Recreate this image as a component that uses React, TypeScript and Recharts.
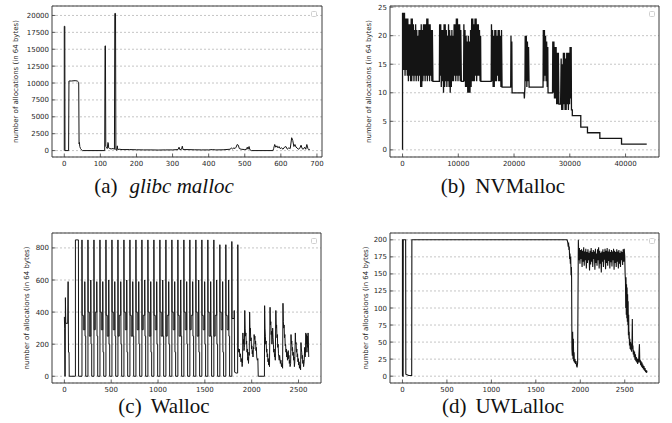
import React from 'react';
import { LineChart, Line, XAxis, YAxis, CartesianGrid, ReferenceArea } from 'recharts';

type Pt = [number, number];

// ---------- tick labels ----------
const glibcXTicks = [0, 100, 200, 300, 400, 500, 600, 700];
const glibcYTicks = [0, 2500, 5000, 7500, 10000, 12500, 15000, 17500, 20000];
const nvXTicks = [0, 10000, 20000, 30000, 40000];
const nvYTicks = [0, 5, 10, 15, 20, 25];
const wallocXTicks = [0, 500, 1000, 1500, 2000, 2500];
const wallocYTicks = [0, 200, 400, 600, 800];
const uwlXTicks = [0, 500, 1000, 1500, 2000, 2500];
const uwlYTicks = [0, 25, 50, 75, 100, 125, 150, 175, 200];

const yTitle = 'number of allocations (in 64 bytes)';

// ---------- series values ----------
const glibcPoints: Pt[] = [
  [0, 0], [0, 18400], [1.5, 18400], [2, 0], [12, 0], [13, 10300], [20, 10300], [30, 10350], [36, 10300], [38, 10200],
  [40, 10100], [41, 1000], [42, 1200], [43, 600], [45, 300], [48, 100], [50, 0], [112, 0], [113, 15500], [114, 15500],
  [115, 600], [117, 500], [119, 300], [121, 1200], [122, 1100], [123, 400], [126, 300], [130, 250], [135, 300], [139, 200],
  [140, 20300], [142, 20300], [143, 100], [145, 50], [147, 700], [148, 150], [152, 200], [160, 150], [180, 150], [200, 120],
  [220, 100], [240, 100], [260, 80], [280, 100], [300, 100], [315, 150], [318, 500], [320, 150], [325, 200], [327, 650],
  [329, 150], [340, 150], [360, 120], [380, 100], [400, 100], [410, 150], [420, 100], [440, 120], [460, 200], [463, 400],
  [466, 250], [470, 400], [473, 300], [476, 500], [479, 900], [482, 800], [485, 300], [490, 200], [500, 150], [505, 200],
  [507, 500], [509, 200], [512, 600], [514, 150], [518, 0], [578, 0], [580, 300], [583, 900], [586, 500], [589, 700],
  [592, 400], [595, 600], [598, 300], [602, 400], [606, 200], [610, 500], [614, 600], [618, 200], [622, 400], [626, 300],
  [630, 1900], [633, 1500], [636, 600], [639, 900], [642, 500], [645, 400], [648, 200], [652, 300], [656, 800], [659, 300],
  [662, 200], [666, 500], [669, 200], [672, 900], [675, 300], [678, 100], [680, 200],
];

const nvmallocPoints: Pt[] = [
  [0, 0], [0, 24],
  [100, 14], [150, 24], [250, 14], [350, 24], [450, 13], [550, 23], [650, 14], [750, 23], [850, 13], [950, 23],
  [1050, 12], [1150, 22], [1250, 13], [1350, 22], [1450, 12], [1550, 23], [1650, 12], [1750, 23], [1850, 13], [1950, 22],
  [2050, 12], [2150, 21], [2250, 13], [2350, 22], [2450, 12], [2550, 21], [2650, 13], [2750, 20], [2850, 12], [2950, 21],
  [3050, 13], [3150, 21], [3250, 11], [3350, 22], [3450, 11], [3550, 21], [3650, 12], [3750, 22], [3850, 13], [3950, 22],
  [4050, 12], [4150, 22], [4250, 13], [4350, 23], [4450, 12], [4550, 23], [4650, 13], [4750, 22], [4850, 12], [4950, 22],
  [5050, 13], [5150, 21], [5250, 12], [5350, 21], [5450, 12],
  [6600, 12],
  [6650, 22], [6750, 13], [6850, 22], [6950, 11], [7050, 21], [7150, 12], [7250, 21], [7350, 10], [7450, 22], [7550, 11],
  [7650, 22], [7750, 12], [7850, 21], [7950, 11], [8050, 20], [8150, 12], [8250, 22], [8350, 11], [8450, 21], [8550, 10],
  [8650, 20], [8750, 11], [8850, 21], [8950, 12], [9050, 20], [9150, 12], [9250, 22], [9350, 13], [9450, 22], [9550, 12],
  [9650, 23], [9750, 13], [9850, 23], [9950, 12], [10050, 22], [10150, 13], [10250, 22], [10350, 12], [10450, 21], [10550, 12],
  [10950, 12],
  [11000, 22], [11100, 12], [11200, 21], [11300, 11], [11400, 20], [11500, 11], [11600, 19], [11700, 10], [11800, 20], [11900, 10],
  [12000, 19], [12100, 10], [12200, 21], [12300, 11], [12400, 23], [12500, 12], [12600, 23], [12700, 12], [12800, 22], [12900, 12],
  [13000, 23], [13100, 13], [13200, 23], [13300, 12], [13400, 22], [13500, 13], [13600, 22], [13700, 13], [13800, 21], [13900, 12],
  [14000, 20], [14050, 12],
  [15900, 12],
  [15950, 22], [16050, 12], [16150, 21], [16250, 11], [16350, 20], [16450, 11], [16550, 21], [16650, 12], [16750, 21], [16850, 12],
  [16950, 20], [17050, 13], [17150, 21], [17250, 12], [17350, 21], [17450, 12], [17550, 20], [17650, 11], [17750, 21], [17850, 11],
  [19400, 11], [19450, 20], [19500, 11], [19600, 19], [19650, 10], [21800, 10], [21850, 9], [21950, 11],
  [22000, 20], [22100, 12], [22200, 20], [22300, 11], [22400, 19], [22500, 12], [22600, 18], [22700, 11],
  [25200, 11],
  [25250, 21], [25350, 12], [25450, 21], [25550, 13], [25650, 20], [25750, 12], [25850, 19], [25950, 11], [26050, 18], [26100, 10],
  [26900, 10],
  [26950, 19], [27050, 10], [27150, 19], [27250, 9], [27350, 18], [27450, 9], [27550, 18], [27650, 8], [27750, 17], [27850, 8],
  [27950, 17], [28050, 8], [28350, 8], [28450, 16], [28550, 7], [28650, 15], [28750, 7], [28850, 17], [28950, 8], [29050, 17],
  [29150, 7], [29250, 16], [29350, 7], [29450, 17], [29550, 8], [29650, 17], [29750, 7], [29850, 17], [29950, 8], [30050, 18],
  [30150, 9], [30250, 18], [30300, 7],
  [30450, 7], [30450, 6], [31970, 6], [31970, 4], [33170, 4], [33170, 3], [35390, 3], [35390, 2], [39280, 2], [39280, 1], [43800, 1],
];

const wallocPoints: Pt[] = [
  [0, 370], [3, 300], [5, 0], [9, 0], [11, 490], [15, 330], [36, 330], [40, 590], [44, 150], [50, 150], [52, 0],
  [118, 0], [118, 850], [150, 850], [152, 0],
  [188, 0], [188, 850], [190, 380], [202, 380], [202, 290], [218, 290], [218, 590], [221, 250], [228, 250], [228, 0],
  [252, 0], [252, 850], [254, 400], [266, 400], [266, 250], [282, 250], [282, 600], [285, 200], [292, 200], [292, 0],
  [316, 0], [316, 850], [318, 290], [330, 290], [330, 400], [346, 400], [346, 590], [349, 250], [356, 250], [356, 0],
  [380, 0], [380, 850], [382, 400], [394, 400], [394, 290], [410, 290], [410, 590], [413, 150], [420, 150], [420, 0],
  [444, 0], [444, 850], [446, 380], [458, 380], [458, 250], [474, 250], [474, 600], [477, 200], [484, 200], [484, 0],
  [508, 0], [508, 850], [510, 400], [522, 400], [522, 290], [538, 290], [538, 590], [541, 250], [548, 250], [548, 0],
  [572, 0], [572, 850], [574, 250], [586, 250], [586, 380], [602, 380], [602, 590], [605, 200], [612, 200], [612, 0],
  [636, 0], [636, 850], [638, 400], [650, 400], [650, 290], [666, 290], [666, 600], [669, 150], [676, 150], [676, 0],
  [700, 0], [700, 850], [702, 380], [714, 380], [714, 250], [730, 250], [730, 590], [733, 250], [740, 250], [740, 0],
  [764, 0], [764, 850], [766, 400], [778, 400], [778, 290], [794, 290], [794, 590], [797, 200], [804, 200], [804, 0],
  [828, 0], [828, 850], [830, 290], [842, 290], [842, 380], [858, 380], [858, 600], [861, 250], [868, 250], [868, 0],
  [892, 0], [892, 850], [894, 400], [906, 400], [906, 250], [922, 250], [922, 590], [925, 150], [932, 150], [932, 0],
  [956, 0], [956, 850], [958, 380], [970, 380], [970, 290], [986, 290], [986, 590], [989, 200], [996, 200], [996, 0],
  [1020, 0], [1020, 850], [1022, 400], [1034, 400], [1034, 250], [1050, 250], [1050, 600], [1053, 250], [1060, 250], [1060, 0],
  [1084, 0], [1084, 850], [1086, 250], [1098, 250], [1098, 380], [1114, 380], [1114, 590], [1117, 200], [1124, 200], [1124, 0],
  [1148, 0], [1148, 850], [1150, 400], [1162, 400], [1162, 290], [1178, 290], [1178, 590], [1181, 150], [1188, 150], [1188, 0],
  [1212, 0], [1212, 850], [1214, 380], [1226, 380], [1226, 250], [1242, 250], [1242, 600], [1245, 250], [1252, 250], [1252, 0],
  [1276, 0], [1276, 850], [1278, 400], [1290, 400], [1290, 290], [1306, 290], [1306, 590], [1309, 200], [1316, 200], [1316, 0],
  [1340, 0], [1340, 850], [1342, 290], [1354, 290], [1354, 380], [1370, 380], [1370, 590], [1373, 250], [1380, 250], [1380, 0],
  [1404, 0], [1404, 850], [1406, 400], [1418, 400], [1418, 250], [1434, 250], [1434, 600], [1437, 150], [1444, 150], [1444, 0],
  [1468, 0], [1468, 850], [1470, 380], [1482, 380], [1482, 290], [1498, 290], [1498, 590], [1501, 200], [1508, 200], [1508, 0],
  [1532, 0], [1532, 850], [1534, 400], [1546, 400], [1546, 250], [1562, 250], [1562, 590], [1565, 250], [1572, 250], [1572, 0],
  [1596, 0], [1596, 850], [1598, 250], [1610, 250], [1610, 380], [1626, 380], [1626, 600], [1629, 200], [1636, 200], [1636, 0],
  [1660, 0], [1660, 820], [1662, 400], [1674, 400], [1674, 290], [1690, 290], [1690, 590], [1693, 150], [1700, 150], [1700, 0],
  [1724, 0], [1724, 820], [1726, 380], [1738, 380], [1738, 290], [1754, 290], [1754, 600], [1757, 250], [1764, 250], [1764, 0],
  [1788, 0], [1788, 840], [1790, 360], [1812, 360], [1814, 410], [1818, 25], [1834, 20], [1850, 20], [1852, 820],
  [1856, 180], [1862, 150], [1868, 170], [1874, 120], [1880, 140], [1886, 90], [1892, 110], [1898, 60], [1902, 80], [1906, 270],
  [1910, 200], [1914, 230], [1918, 160], [1922, 180], [1926, 410], [1930, 300], [1934, 250], [1938, 270], [1942, 200], [1946, 220],
  [1950, 150], [1954, 170], [1958, 100], [1962, 120], [1966, 80], [1970, 150], [1974, 130], [1978, 400], [1982, 280], [1986, 300],
  [1990, 220], [1994, 240], [1998, 170], [2002, 190], [2006, 140], [2010, 160], [2014, 120], [2018, 180], [2022, 170], [2026, 260],
  [2030, 230], [2034, 250], [2038, 200], [2042, 220], [2046, 160], [2050, 180], [2054, 120], [2060, 100], [2066, 110], [2070, 0],
  [2136, 0], [2138, 440], [2142, 300], [2146, 250], [2150, 200], [2154, 220], [2158, 150], [2162, 170], [2166, 120], [2170, 140],
  [2174, 90], [2178, 110], [2182, 70], [2186, 90], [2190, 60], [2196, 430], [2200, 320], [2204, 340], [2208, 260], [2212, 280],
  [2216, 200], [2220, 230], [2224, 300], [2228, 240], [2232, 200], [2236, 150], [2240, 170], [2244, 120], [2248, 140], [2252, 100],
  [2258, 410], [2262, 300], [2266, 320], [2270, 240], [2274, 260], [2278, 180], [2282, 200], [2286, 140], [2290, 120], [2294, 100],
  [2298, 130], [2302, 110], [2306, 80], [2312, 100], [2318, 60], [2324, 80], [2330, 50], [2334, 455], [2338, 340], [2342, 300],
  [2346, 320], [2350, 240], [2354, 260], [2358, 190], [2362, 200], [2366, 150], [2370, 170], [2374, 120], [2378, 150], [2382, 100],
  [2386, 130], [2390, 160], [2394, 110], [2398, 130], [2402, 80], [2406, 100], [2410, 60], [2416, 80], [2420, 260], [2424, 200],
  [2428, 220], [2432, 160], [2436, 180], [2440, 130], [2444, 150], [2448, 100], [2452, 120], [2456, 60], [2460, 90], [2466, 270],
  [2470, 200], [2474, 210], [2478, 150], [2482, 170], [2486, 120], [2490, 140], [2494, 90], [2498, 110], [2502, 70], [2506, 90],
  [2510, 50], [2516, 70], [2522, 40], [2526, 210], [2530, 170], [2534, 150], [2538, 110], [2542, 130], [2546, 80], [2550, 100],
  [2554, 60], [2560, 90], [2566, 180], [2570, 120], [2574, 140], [2578, 270], [2582, 200], [2586, 260], [2590, 150], [2594, 250],
  [2598, 180], [2602, 270], [2606, 200], [2609, 120],
];

const uwlallocPoints: Pt[] = [
  [0, 0], [0, 200], [5, 200], [6, 0], [8, 0], [9, 200], [36, 200], [38, 3], [70, 1], [104, 1], [106, 200], [1850, 200],
  [1856, 198], [1860, 195], [1864, 190], [1868, 196], [1872, 185], [1876, 190], [1880, 172], [1884, 180], [1888, 165], [1892, 175],
  [1896, 148], [1900, 160], [1902, 146], [1906, 40], [1910, 30], [1914, 65], [1918, 25], [1922, 55], [1926, 22], [1930, 35],
  [1934, 20], [1940, 25], [1946, 18], [1952, 22], [1958, 15], [1964, 13], [1970, 20], [1978, 200],
  [1984, 170], [1990, 188], [1996, 165], [2002, 185], [2008, 172], [2014, 186], [2020, 160], [2026, 184], [2032, 168], [2038, 189],
  [2044, 162], [2050, 183], [2056, 170], [2062, 187], [2068, 158], [2074, 182], [2080, 166], [2086, 186], [2092, 170], [2098, 181],
  [2104, 155], [2110, 184], [2116, 164], [2122, 188], [2128, 168], [2134, 182], [2140, 160], [2146, 185], [2152, 172], [2158, 183],
  [2164, 156], [2170, 187], [2176, 166], [2182, 180], [2188, 162], [2194, 186], [2200, 170], [2206, 189], [2212, 158], [2218, 184],
  [2224, 165], [2230, 181], [2236, 152], [2242, 183], [2248, 168], [2254, 186], [2260, 160], [2266, 182], [2272, 171], [2278, 187],
  [2284, 157], [2290, 184], [2296, 166], [2302, 188], [2308, 162], [2314, 183], [2320, 169], [2326, 186], [2332, 158], [2338, 182],
  [2344, 167], [2350, 185], [2356, 161], [2362, 183], [2368, 170], [2374, 187], [2380, 156], [2386, 184], [2392, 166], [2398, 182],
  [2404, 160], [2410, 186], [2416, 168], [2422, 183], [2428, 158], [2434, 185], [2440, 165], [2446, 181], [2452, 160], [2458, 184],
  [2464, 170], [2470, 182], [2476, 163], [2482, 186], [2488, 168], [2494, 187],
  [2500, 175], [2504, 150], [2508, 140], [2511, 100], [2514, 145], [2517, 90], [2520, 135], [2523, 85], [2526, 130], [2529, 80],
  [2532, 120], [2535, 75], [2538, 110], [2541, 60], [2544, 90], [2547, 55], [2550, 65], [2553, 45], [2557, 55], [2561, 40],
  [2565, 50], [2569, 38], [2573, 48], [2577, 36], [2581, 44], [2585, 84], [2588, 40], [2592, 45], [2596, 32], [2600, 38],
  [2605, 28], [2610, 36], [2615, 24], [2620, 32], [2625, 22], [2630, 28], [2635, 20], [2640, 26], [2645, 18], [2650, 25],
  [2655, 20], [2665, 47], [2669, 20], [2674, 24], [2679, 16], [2684, 22], [2689, 14], [2694, 20], [2699, 12], [2704, 17],
  [2710, 10], [2716, 15], [2722, 8], [2728, 12], [2734, 6], [2740, 9], [2746, 5], [2750, 8],
];

// ---------- styling ----------
const TM = 3;
const TICK_FONT = 'DejaVu Sans';
const LINE_COLOR = '#141414';
const FRAME_COLOR = '#3c3c3c';

const toRows = (pts: Pt[]) => pts.map(([x, y]) => ({ x, y }));

const XTick = (props: any) => {
  const { x, y, payload } = props;
  const ay = y - TM;
  return (
    <g>
      <line x1={x} x2={x} y1={ay} y2={ay - 3.5} stroke={FRAME_COLOR} strokeWidth={0.8} />
      <text x={x} y={ay + 9} textAnchor="middle" fontSize={7} fontFamily={TICK_FONT} fill="#262626">
        {payload.value}
      </text>
    </g>
  );
};

const YTick = (props: any) => {
  const { x, y, payload } = props;
  const ax = x + TM;
  return (
    <g>
      <line x1={ax} x2={ax + 3.5} y1={y} y2={y} stroke={FRAME_COLOR} strokeWidth={0.8} />
      <text x={ax - 3} y={y + 2.5} textAnchor="end" fontSize={7} fontFamily={TICK_FONT} fill="#262626">
        {payload.value}
      </text>
    </g>
  );
};

interface PanelCfg {
  left: number;
  top: number;
  width: number;
  height: number;
  mTop: number;
  mRight: number;
  yW: number;
  xH: number;
  points: Pt[];
  xDomain: [number, number];
  yDomain: [number, number];
  xTicks: number[];
  yTicks: number[];
  titleX: number;
  lineWidth: number;
}

function Panel({ cfg }: { cfg: PanelCfg }) {
  const { left, top, width, height, mTop, mRight, yW, xH, points, xDomain, yDomain, xTicks, yTicks, titleX, lineWidth } = cfg;
  const plotH = height - mTop - xH;
  const cy = mTop + plotH / 2;
  const rows = toRows(points);
  return (
    <div style={{ position: 'absolute', left, top, width, height }}>
      <LineChart width={width} height={height} data={rows} margin={{ top: mTop, right: mRight, bottom: 0, left: 0 }}>
        <CartesianGrid vertical={false} stroke="#b8b8b8" strokeDasharray="2 2" strokeWidth={0.8} />
        <XAxis
          type="number"
          dataKey="x"
          domain={xDomain}
          ticks={xTicks}
          allowDataOverflow
          interval={0}
          height={xH}
          tickSize={0}
          tickMargin={TM}
          tickLine={false}
          axisLine={false}
          tick={(p: any) => <XTick {...p} />}
        />
        <YAxis
          type="number"
          domain={yDomain}
          ticks={yTicks}
          allowDataOverflow
          interval={0}
          width={yW}
          tickSize={0}
          tickMargin={TM}
          tickLine={false}
          axisLine={false}
          tick={(p: any) => <YTick {...p} />}
          label={() => (
            <text
              x={titleX}
              y={cy}
              transform={`rotate(-90 ${titleX} ${cy})`}
              textAnchor="middle"
              dominantBaseline="central"
              fontSize={7}
              fontFamily={TICK_FONT}
              fill="#262626"
            >
              {yTitle}
            </text>
          )}
        />
        <ReferenceArea
          x1={xDomain[0]}
          x2={xDomain[1]}
          y1={yDomain[0]}
          y2={yDomain[1]}
          fill="none"
          stroke={FRAME_COLOR}
          strokeWidth={1}
          ifOverflow="visible"
        />
        <Line type="linear" dataKey="y" stroke={LINE_COLOR} strokeWidth={lineWidth} dot={false} isAnimationActive={false} />
      </LineChart>
    </div>
  );
}

const panels: PanelCfg[] = [
  {
    left: 0, top: 0, width: 336, height: 200, mTop: 6, mRight: 14, yW: 52, xH: 43, lineWidth: 1,
    points: glibcPoints, xDomain: [-34, 714], yDomain: [-950, 21400], xTicks: glibcXTicks, yTicks: glibcYTicks, titleX: 16,
  },
  {
    left: 336, top: 0, width: 336, height: 200, mTop: 6, mRight: 13, yW: 54, xH: 43, lineWidth: 1.3,
    points: nvmallocPoints, xDomain: [-2250, 46000], yDomain: [-1.25, 25.2], xTicks: nvXTicks, yTicks: nvYTicks, titleX: 33,
  },
  {
    left: 0, top: 200, width: 336, height: 223, mTop: 33, mRight: 15, yW: 52, xH: 40, lineWidth: 1,
    points: wallocPoints, xDomain: [-132, 2740], yDomain: [-42, 893], xTicks: wallocXTicks, yTicks: wallocYTicks, titleX: 27,
  },
  {
    left: 336, top: 200, width: 336, height: 223, mTop: 33, mRight: 13, yW: 54, xH: 40, lineWidth: 1.1,
    points: uwlallocPoints, xDomain: [-140, 2885], yDomain: [-10, 210], xTicks: uwlXTicks, yTicks: uwlYTicks, titleX: 29.5,
  },
];

const legendBoxes = [
  { left: 311, top: 10.5 },
  { left: 649, top: 10.5 },
  { left: 311, top: 237.5 },
  { left: 649, top: 237.5 },
];

const captionStyle: React.CSSProperties = {
  position: 'absolute',
  width: 300,
  textAlign: 'center',
  fontFamily: '"Liberation Serif", "Times New Roman", serif',
  fontSize: 21,
  lineHeight: '21px',
  color: '#111',
  whiteSpace: 'nowrap',
};

export default function App() {
  return (
    <div style={{ position: 'absolute', left: 0, top: 0, width: 672, height: 423, background: '#fff', overflow: 'hidden' }}>
      {panels.map((p, i) => (
        <Panel key={i} cfg={p} />
      ))}
      {legendBoxes.map((b, i) => (
        <div
          key={i}
          style={{
            position: 'absolute', left: b.left, top: b.top, width: 6, height: 6, boxSizing: 'border-box',
            border: '1px solid #d0d0d0', borderRadius: 1.5, background: '#fff',
          }}
        />
      ))}
      <div style={{ ...captionStyle, left: 164 - 150, top: 176 }}>
        (a)<span style={{ marginLeft: 12, fontStyle: 'italic' }}>glibc malloc</span>
      </div>
      <div style={{ ...captionStyle, left: 503 - 150, top: 176 }}>
        (b)<span style={{ marginLeft: 10 }}>NVMalloc</span>
      </div>
      <div style={{ ...captionStyle, left: 164 - 150, top: 396 }}>
        (c)<span style={{ marginLeft: 9 }}>Walloc</span>
      </div>
      <div style={{ ...captionStyle, left: 503 - 150, top: 396 }}>
        (d)<span style={{ marginLeft: 9 }}>UWLalloc</span>
      </div>
    </div>
  );
}
